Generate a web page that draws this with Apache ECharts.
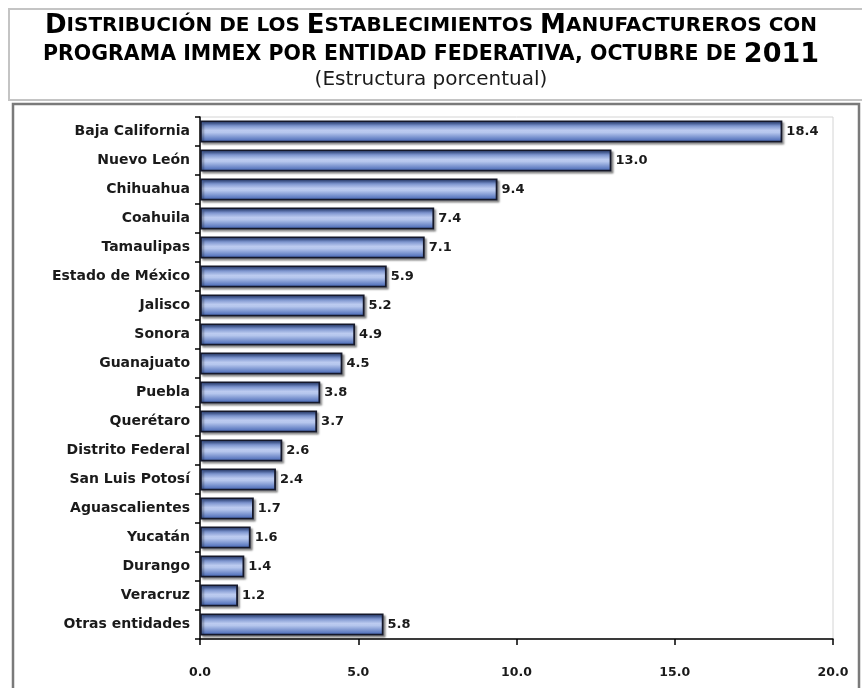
<!DOCTYPE html>
<html><head><meta charset="utf-8">
<script src="https://cdn.jsdelivr.net/npm/echarts@6/dist/echarts.min.js"></script>
<style>html,body{margin:0;padding:0;background:#fff}#c{width:862px;height:688px}</style>
</head><body><div id="c"></div>
<script>
const categories = ["Baja California","Nuevo León","Chihuahua","Coahuila","Tamaulipas","Estado de México","Jalisco","Sonora","Guanajuato","Puebla","Querétaro","Distrito Federal","San Luis Potosí","Aguascalientes","Yucatán","Durango","Veracruz","Otras entidades"];
const values = [18.4,13.0,9.4,7.4,7.1,5.9,5.2,4.9,4.5,3.8,3.7,2.6,2.4,1.7,1.6,1.4,1.2,5.8];
const xTicks = [0,5,10,15,20];

const FONT = '"DejaVu Sans",Verdana,sans-serif';
const chart = echarts.init(document.getElementById('c'), null, {renderer:'canvas'});
const big = {fontSize:26, fontWeight:'bold', fontFamily:FONT, color:'#1a1a1a'};
const sm = {fontSize:20, fontWeight:'bold', fontFamily:FONT, color:'#1a1a1a'};
const big2 = {fontSize:27, fontWeight:'bold', fontFamily:FONT, color:'#1a1a1a'};
const sm2 = {fontSize:20.5, fontWeight:'bold', fontFamily:FONT, color:'#1a1a1a'};
chart.setOption({
  backgroundColor:'#fff',
  animation:false,
  graphic:[
    {type:'rect', shape:{x:9,y:9,width:870,height:91}, style:{fill:'#fff',stroke:'#c4c4c4',lineWidth:2}, z:-10},
    {type:'rect', shape:{x:13,y:104,width:846,height:600}, style:{fill:'#fff',stroke:'#7a7a7a',lineWidth:2.5}, z:-10},
    {type:'text', left:'center', top:13, style:{
      text:'{b|D}{s|ISTRIBUCIÓN DE LOS }{b|E}{s|STABLECIMIENTOS }{b|M}{s|ANUFACTUREROS CON}',
      rich:{b:big,s:sm}}},
    {type:'text', left:'center', top:41, style:{
      text:'{s|PROGRAMA IMMEX POR ENTIDAD FEDERATIVA, OCTUBRE DE }{b|2011}',
      rich:{b:big2,s:sm2}}},
    {type:'text', left:'center', top:70, style:{
      text:'(Estructura porcentual)', font:'20px '+FONT, fill:'#1a1a1a'}}
  ],
  grid:{left:200, right:29, top:117, bottom:49, show:true, borderColor:'#d4d4d4', borderWidth:1, backgroundColor:'transparent'},
  xAxis:{type:'value', min:0, max:20, interval:5,
    axisLine:{show:true,lineStyle:{color:'#000',width:1.5}},
    axisTick:{show:true,length:6,lineStyle:{color:'#000',width:1.5}},
    splitLine:{show:false},
    axisLabel:{margin:27, formatter:v=>v.toFixed(1), fontSize:12.5, fontWeight:'bold', fontFamily:FONT, color:'#1a1a1a'}
  },
  yAxis:{type:'category', data:categories, inverse:true,
    axisLine:{show:true,lineStyle:{color:'#000',width:1.5}},
    axisTick:{show:true,length:5,lineStyle:{color:'#000',width:1.5}},
    axisLabel:{margin:10, fontSize:14, fontWeight:'bold', fontFamily:FONT, color:'#1a1a1a'}
  },
  series:[{type:'bar', data:values, barCategoryGap:'24%',
    itemStyle:{
      color:new echarts.graphic.LinearGradient(0,0,0,1,[
        {offset:0,color:'#3557a8'},{offset:0.45,color:'#bccbf0'},{offset:0.55,color:'#b5c6ed'},{offset:1,color:'#3a5cae'}]),
      borderColor:'#15182a', borderWidth:1.8,
      shadowColor:'rgba(0,0,0,0.35)', shadowBlur:2, shadowOffsetX:2, shadowOffsetY:2
    },
    label:{show:true, position:'right', distance:4, formatter:p=>p.value.toFixed(1), fontSize:13, fontWeight:'bold', fontFamily:FONT, color:'#1a1a1a'}
  }]
});
</script></body></html>
